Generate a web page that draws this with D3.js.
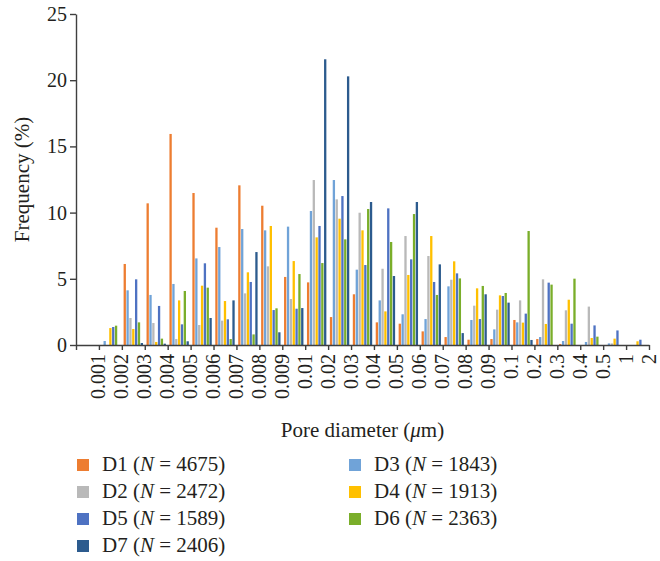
<!DOCTYPE html>
<html>
<head>
<meta charset="utf-8">
<script src="https://d3js.org/d3.v7.min.js"></script>
<style>
  body { margin: 0; background: #fff; }
  text { font-family: "Liberation Serif", "Times New Roman", serif; fill: #231f20; }
</style>
</head>
<body>
<div id="chart-area"></div>
<script>
// pore diameter bins (label = upper bound of bin)
const categories = ["0.001","0.002","0.003","0.004","0.005","0.006","0.007","0.008","0.009",
    "0.01","0.02","0.03","0.04","0.05","0.06","0.07","0.08","0.09",
    "0.1","0.2","0.3","0.4","0.5","1","2"];

// series in the order they are drawn inside each group
const seriesNames = ["D1","D3","D2","D4","D5","D6","D7"];
const seriesN = [4675, 1843, 2472, 1913, 1589, 2363, 2406];
const seriesColors = ["#ed7d31","#70a3d8","#b9b9b9","#ffc000","#4e72c2","#7aae2a","#2c5b8e"];

// frequency (%) per bin
const freqD1 = [0,0,6.12,10.7,15.94,11.48,8.86,12.06,10.52,5.14,4.73,2.11,3.83,1.71,1.61,1.03,0.6,0.4,0.45,1.89,0.45,0.08,0,0,0];
const freqD3 = [0,0.3,4.13,3.78,4.61,6.54,7.4,8.76,8.66,8.94,10.12,12.46,5.69,3.37,2.32,1.96,4.43,1.89,1.18,1.71,0.6,0.3,0.23,0.12,0];
const freqD2 = [0,0,2.04,1.66,0.45,1.51,1.84,3.9,5.94,3.47,12.46,11.0,9.99,5.76,8.23,6.72,4.93,2.97,2.67,3.37,4.96,2.62,2.9,0.12,0];
const freqD4 = [0,1.28,1.21,0.23,3.37,4.48,3.32,5.49,8.99,6.34,8.13,9.54,8.66,2.54,5.29,8.23,6.32,4.28,3.75,1.69,1.59,3.42,0.53,0.48,0.28];
const freqD5 = [0,1.36,4.96,2.95,1.56,6.17,1.94,4.76,2.64,2.74,8.99,11.25,6.04,10.32,6.47,4.76,5.41,1.96,3.7,2.37,4.71,1.61,1.48,1.1,0.4];
const freqD6 = [0,1.46,1.71,0.48,4.08,4.33,0.45,0.8,2.77,5.36,6.19,7.98,10.27,7.78,9.89,3.78,5.03,4.46,3.93,8.61,4.56,5.01,0.63,0,0];
const freqD7 = [0,0,0.15,0.1,0.28,2.04,3.37,7.02,0.96,2.79,21.58,20.29,10.8,5.21,10.8,6.09,0.9,3.83,3.2,0.38,0,0,0,0,0];
const seriesValues = [freqD1, freqD3, freqD2, freqD4, freqD5, freqD6, freqD7];

const yTicks = [0, 5, 10, 15, 20, 25];

const margin = { left: 76, right: 11, top: 14, bottom: 216 };
const width = 660 - margin.left - margin.right,
    height = 561 - margin.top - margin.bottom;

var svg = d3.select("#chart-area")
    .append("svg")
    .attr("width", 660)
    .attr("height", 561);

const g = svg.append("g")
    .attr("transform", "translate(" + margin.left + ", " + margin.top + ")");

const y = d3.scaleLinear()
    .domain([0, 25])
    .range([height, 0]);

// one band per bin
const x = d3.scaleBand()
    .domain(categories)
    .range([0, width])
    .paddingInner(0)
    .paddingOuter(0);

// bars inside a band
const xs = d3.scaleBand()
    .domain(seriesNames)
    .range([0, x.bandwidth()])
    .paddingInner(0.19)
    .paddingOuter(0.62);

// labels sit on the band edges
const xEdge = d3.scalePoint()
    .domain([""].concat(categories))
    .range([0, width]);

const data = [];
categories.forEach(function(c, i){
    seriesNames.forEach(function(s, j){
        data.push({ cat: c, name: s, value: seriesValues[j][i], color: seriesColors[j] });
    });
});

g.selectAll("rect.bar")
    .data(data)
    .enter()
    .append("rect")
        .attr("class", "bar")
        .attr("x", function(d){ return x(d.cat) + xs(d.name); })
        .attr("y", function(d){ return y(d.value); })
        .attr("width", xs.bandwidth())
        .attr("height", function(d){ return height - y(d.value); })
        .attr("fill", function(d){ return d.color; });

// x axis
var xAxisCall = d3.axisBottom(xEdge).tickSizeInner(5).tickSizeOuter(0);
var xAxis = g.append("g")
    .attr("class", "x axis")
    .attr("transform", "translate(0, " + height + ")")
    .call(xAxisCall);
xAxis.selectAll("text")
    .attr("y", 0)
    .attr("x", -9)
    .attr("dy", "0.3em")
    .attr("text-anchor", "end")
    .attr("transform", "rotate(-90)")
    .attr("font-size", "20px");

// y axis
var yAxisCall = d3.axisLeft(y).tickValues(yTicks).tickSizeInner(6).tickSizeOuter(0);
var yAxis = g.append("g")
    .attr("class", "y axis")
    .call(yAxisCall);
yAxis.selectAll("text")
    .attr("x", -9)
    .attr("font-size", "20px");

svg.selectAll(".axis path, .axis line")
    .attr("stroke", "#3f3f3f")
    .attr("stroke-width", 1.4);
svg.selectAll(".axis text").attr("fill", "#231f20").attr("font-family", "Liberation Serif");

// X label
var xLabel = svg.append("text")
    .attr("x", margin.left + width / 2)
    .attr("y", 437)
    .attr("font-size", "21px")
    .attr("text-anchor", "middle");
xLabel.append("tspan").text("Pore diameter (");
xLabel.append("tspan").attr("font-style", "italic").text("\u03bc");
xLabel.append("tspan").text("m)");

// Y label
svg.append("text")
    .attr("x", -(margin.top + height / 2))
    .attr("y", 29)
    .attr("font-size", "21px")
    .attr("text-anchor", "middle")
    .attr("transform", "rotate(-90)")
    .text("Frequency (%)");

// legend, filled row by row in two columns
const legend = svg.append("g").attr("class", "legend");
seriesNames.forEach(function(s, j){
    var col = j % 2, row = Math.floor(j / 2);
    var lx = col === 0 ? 77 : 349;
    var ly = 459 + row * 27;
    legend.append("rect")
        .attr("x", lx)
        .attr("y", ly)
        .attr("width", 12)
        .attr("height", 12)
        .attr("fill", seriesColors[j]);
    var t = legend.append("text")
        .attr("x", lx + 25)
        .attr("y", ly + 12)
        .attr("font-size", "21px");
    t.append("tspan").text(s + " (");
    t.append("tspan").attr("font-style", "italic").text("N");
    t.append("tspan").text(" = " + seriesN[j] + ")");
});
</script>
</body>
</html>
